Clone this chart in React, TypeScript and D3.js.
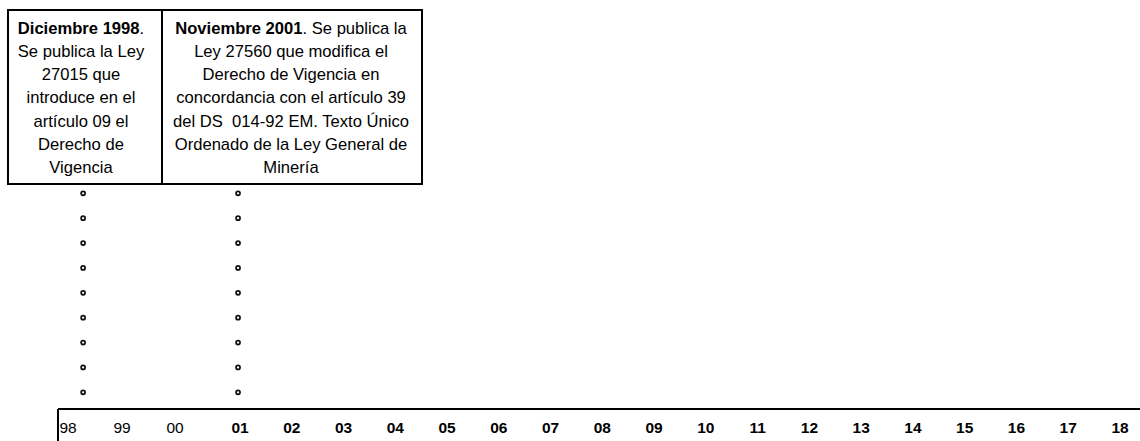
import React from "react";
import * as d3 from "d3";

// ---- data ----
const years: number[] = d3.range(1998, 2019);
const yearLabels: string[] = years.map((y) => String(y).slice(2));
const boldFromYear = 2001;

// axis anchor years (piecewise linear timeline)
const axisAnchorYears = [1998, 1999, 2000, 2001, 2018];

const eventTitles = ["Diciembre 1998", "Noviembre 2001"];
const eventLines: string[][] = [
  [
    ".",
    "Se publica la Ley",
    "27015 que",
    "introduce en el",
    "artículo 09 el",
    "Derecho de",
    "Vigencia",
  ],
  [
    ". Se publica la",
    "Ley 27560 que modifica el",
    "Derecho de Vigencia en",
    "concordancia con el artículo 39",
    "del DS  014-92 EM. Texto Único",
    "Ordenado de la Ley General de",
    "Minería",
  ],
];
// position of each event's dotted leader, in timeline years
const eventMarkerYears = [1998.28, 2000.97];
const dotsPerLeader = 9;

// ---- layout ----
const W = 1140;
const H = 441;
const FONT = "'Liberation Sans', Arial, Helvetica, sans-serif";
const textShift = [-4, -1];

export default function App() {
  const x = d3
    .scaleLinear()
    .domain(axisAnchorYears)
    .range([68, 122, 175, 240, 1120]);

  const boxEdges = d3.scaleOrdinal<number, number>().domain([0, 1, 2]).range([8, 162, 422]);
  const boxTop = 10;
  const boxBottom = 184;

  const lineY = d3.scaleLinear().domain([0, 1]).range([33.5, 56.8]);
  const dotY = d3
    .scaleLinear()
    .domain([0, dotsPerLeader - 1])
    .range([193.3, 392.3]);

  const axisY = 409;

  return (
    <svg
      width={W}
      height={H}
      style={{ position: "absolute", left: 0, top: 0, background: "#fff" }}
      fontFamily={FONT}
    >
      <rect x={0} y={0} width={W} height={H} fill="#fff" />
      {/* event boxes */}
      {eventTitles.map((title, i) => {
        const x0 = boxEdges(i);
        const x1 = boxEdges(i + 1);
        const cx = (x0 + x1) / 2 + textShift[i];
        return (
          <g key={title}>
            <rect
              x={x0}
              y={boxTop}
              width={x1 - x0}
              height={boxBottom - boxTop}
              fill="none"
              stroke="#000"
              strokeWidth={2}
            />
            {eventLines[i].map((ln, j) => (
              <text
                key={j}
                x={cx}
                y={lineY(j)}
                textAnchor="middle"
                fontSize={16.6}
                fill="#000"
                style={{ whiteSpace: "pre" }}
              >
                {j === 0 ? (
                  <>
                    <tspan fontWeight="bold">{title}</tspan>
                    <tspan>{ln}</tspan>
                  </>
                ) : (
                  ln
                )}
              </text>
            ))}
          </g>
        );
      })}

      {/* dotted leaders */}
      {eventMarkerYears.map((yr, i) => (
        <g key={i}>
          {d3.range(dotsPerLeader).map((k) => (
            <circle
              key={k}
              cx={x(yr)}
              cy={dotY(k)}
              r={2}
              fill="#fff"
              stroke="#111"
              strokeWidth={1.7}
            />
          ))}
        </g>
      ))}

      {/* timeline axis */}
      <line x1={x(1998) - 10} x2={W} y1={axisY} y2={axisY} stroke="#000" strokeWidth={2} />
      <line
        x1={x(1998) - 10}
        x2={x(1998) - 10}
        y1={axisY}
        y2={H}
        stroke="#000"
        strokeWidth={2}
      />
      {years.map((y, i) => (
        <text
          key={y}
          x={x(y)}
          y={432.5}
          textAnchor="middle"
          fontSize={15.5}
          fontWeight={y >= boldFromYear ? "bold" : "normal"}
          fill="#000"
        >
          {yearLabels[i]}
        </text>
      ))}
    </svg>
  );
}
